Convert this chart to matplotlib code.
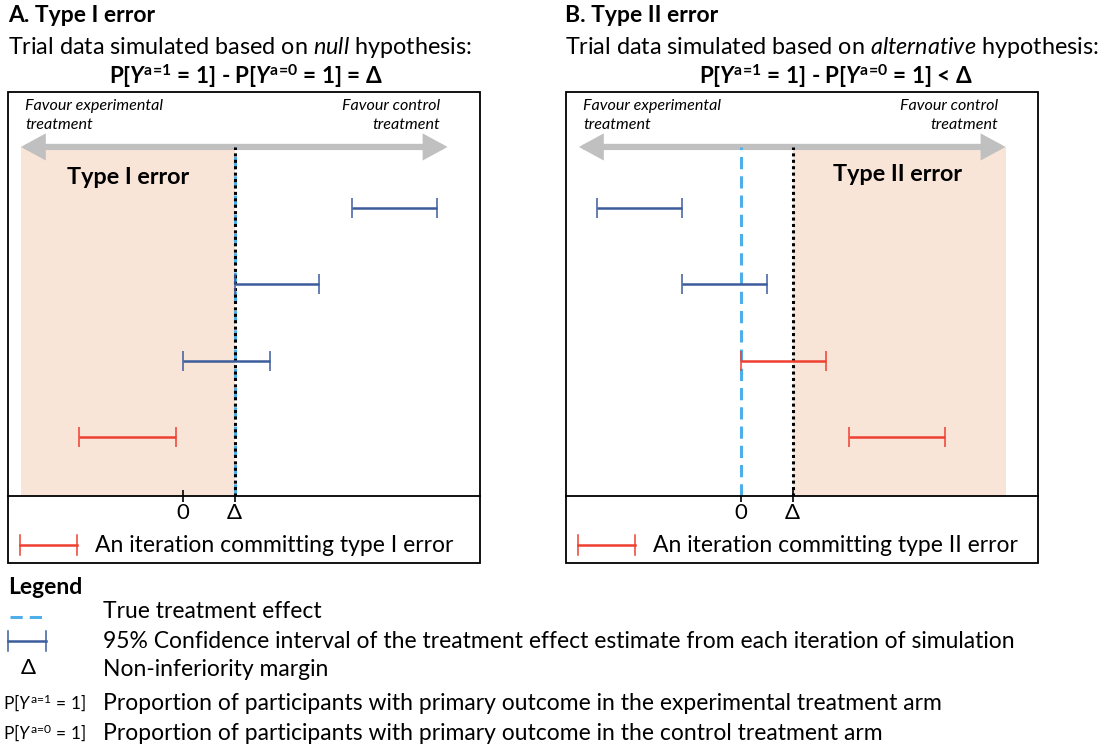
import matplotlib
matplotlib.use("Agg")
import matplotlib.pyplot as plt
from matplotlib.lines import Line2D
from matplotlib.patches import FancyArrowPatch, Rectangle

plt.rcParams["font.family"] = ["Lato", "DejaVu Sans"]
plt.rcParams["mathtext.fontset"] = "custom"
plt.rcParams["mathtext.rm"] = "Lato"
plt.rcParams["mathtext.it"] = "Lato:italic"
plt.rcParams["mathtext.bf"] = "Lato:bold"
plt.rcParams["mathtext.bfit"] = "Lato:bold:italic"
plt.rcParams["mathtext.fallback"] = "stixsans"

# treatment effect scale: 0 = no difference, 1 = non-inferiority margin
XLIM = (-3.4, 5.76)
ROWS = [1, 2, 3, 4]

# panel A: data simulated under the null (true effect = margin)
a_low = [3.28, 1.0, 0.0, -2.02]
a_high = [4.93, 2.64, 1.69, -0.14]
a_error = [False, False, False, True]
a_true_effect = 1.0

# panel B: data simulated under the alternative (true effect = 0)
b_low = [-2.80, -1.15, 0.0, 2.10]
b_high = [-1.15, 0.50, 1.65, 3.96]
b_error = [False, False, True, True]
b_true_effect = 0.0

margin = 1.0
arrow_span = (-3.15, 5.13)
tick_pos = [0, margin]
tick_labels = ["0", "Δ"]

BLUE_CI = "#3C5C9C"
RED_CI = "#EE3F30"
TRUE_BLUE = "#4DAEEA"
SHADE = "#F8E5D8"
ARROW_GREY = "#C0C0C0"

TRUE_DASH = (0, (4, 2.3))
MARGIN_DOT = (0, (1, 1.1))

W, H = 1103, 747
PANEL_W = 472


def fx(x):
    return x / W


def fy(y):
    return 1 - y / H


def ci_symbol(fig, x0, x1, y, color):
    fig.add_artist(Line2D([fx(x0), fx(x1)], [fy(y), fy(y)], color=color, lw=1.8))
    for x in (x0, x1):
        fig.add_artist(Line2D([fx(x), fx(x)], [fy(y - 10), fy(y + 10)], color=color, lw=1.1))


def draw_panel(fig, left, low, high, errors, true_effect, shade_span, label, label_xy, legend_text):
    right = left + PANEL_W
    ax = fig.add_axes([fx(left), fy(496), PANEL_W / W, 404 / H])
    ax.set_xlim(XLIM)
    ax.set_ylim(4.765, -0.516)
    for side in ("top", "left", "right"):
        ax.spines[side].set_visible(False)
    ax.spines["bottom"].set_linewidth(1.3)
    ax.set_yticks([])
    ax.set_xticks(tick_pos)
    ax.set_xticklabels(tick_labels, fontsize=16)
    ax.tick_params(axis="x", direction="inout", length=8, width=1.2, pad=1)

    arrow_y = 0.864
    ax.axvspan(shade_span[0], shade_span[1], ymin=0, ymax=arrow_y, color=SHADE, lw=0, zorder=0)

    arrow = FancyArrowPatch(
        (arrow_span[0], arrow_y), (arrow_span[1], arrow_y),
        transform=ax.get_xaxis_transform(),
        arrowstyle="<|-|>,head_length=0.55,head_width=0.3",
        mutation_scale=20, lw=4.5, color=ARROW_GREY,
        shrinkA=0, shrinkB=0, joinstyle="miter", zorder=1,
    )
    ax.add_patch(arrow)

    ax.axvline(true_effect, ymin=0, ymax=arrow_y, color=TRUE_BLUE, lw=2.2,
               linestyle=TRUE_DASH, zorder=2)
    ax.axvline(margin, ymin=0, ymax=arrow_y, color="black", lw=2.2,
               linestyle=MARGIN_DOT, zorder=3)

    for row, lo, hi, err in zip(ROWS, low, high, errors):
        color = RED_CI if err else BLUE_CI
        ax.errorbar((lo + hi) / 2, row, xerr=(hi - lo) / 2, fmt="none",
                    ecolor=color, elinewidth=1.8, capsize=7.5, capthick=1.1, zorder=4)

    ax.text(label_xy[0], label_xy[1], label, fontsize=16.8, fontweight="bold",
            ha="center", va="center")

    # outer frame of the panel
    fig.add_artist(Rectangle((fx(left), fy(563)), PANEL_W / W, (563 - 92) / H,
                             transform=fig.transFigure, fill=False, lw=1.3, ec="black"))

    fig.text(fx(left + 17), fy(99), "Favour experimental\ntreatment", fontsize=11.6,
             style="italic", ha="left", va="top", linespacing=1.45)
    fig.text(fx(right - 40), fy(99), "Favour control\ntreatment", fontsize=11.6,
             style="italic", ha="right", va="top", linespacing=1.45)

    ci_symbol(fig, left + 12, left + 69, 545, RED_CI)
    fig.text(fx(left + 87), fy(545), legend_text, fontsize=16.5, ha="left", va="center")
    return ax


fig = plt.figure(figsize=(W / 100, H / 100), dpi=100)

FORMULA_A = r"P[$\mathbfit{Y}^{\mathbf{a\!=\!1}}$ = 1] - P[$\mathbfit{Y}^{\mathbf{a\!=\!0}}$ = 1] = Δ"
FORMULA_B = r"P[$\mathbfit{Y}^{\mathbf{a\!=\!1}}$ = 1] - P[$\mathbfit{Y}^{\mathbf{a\!=\!0}}$ = 1] < Δ"

fig.text(fx(8), fy(15), "A. Type I error", fontsize=16.5, fontweight="bold", va="center")
fig.text(fx(8), fy(47), r"Trial data simulated based on $\mathit{null}$ hypothesis:",
         fontsize=16.8, va="center")
fig.text(fx(246), fy(76), FORMULA_A, fontsize=16.2, fontweight="bold", ha="center", va="center")

fig.text(fx(565), fy(15), "B. Type II error", fontsize=16.5, fontweight="bold", va="center")
fig.text(fx(565), fy(47), r"Trial data simulated based on $\mathit{alternative}$ hypothesis:",
         fontsize=16.8, va="center")
fig.text(fx(836), fy(76), FORMULA_B, fontsize=16.2, fontweight="bold", ha="center", va="center")

ax_a = draw_panel(fig, 8, a_low, a_high, a_error, a_true_effect,
                  (arrow_span[0], margin), "Type I error", (-1.07, 0.6),
                  "An iteration committing type I error")
ax_b = draw_panel(fig, 566, b_low, b_high, b_error, b_true_effect,
                  (margin, arrow_span[1]), "Type II error", (3.03, 0.56),
                  "An iteration committing type II error")

# shared legend below the panels
fig.text(fx(8), fy(587), "Legend", fontsize=16.5, fontweight="bold", va="center")
legend_rows = [612, 641, 670, 703, 733]
legend_texts = [
    "True treatment effect",
    "95% Confidence interval of the treatment effect estimate from each iteration of simulation",
    "Non-inferiority margin",
    "Proportion of participants with primary outcome in the experimental treatment arm",
    "Proportion of participants with primary outcome in the control treatment arm",
]
for y, txt in zip(legend_rows, legend_texts):
    fig.text(fx(103), fy(y), txt, fontsize=16.5, va="center")

fig.add_artist(Line2D([fx(10), fx(47)], [fy(617), fy(617)], color=TRUE_BLUE, lw=2.2,
                      linestyle=TRUE_DASH))
ci_symbol(fig, 8, 46, 641, BLUE_CI)
fig.text(fx(28), fy(668), "Δ", fontsize=16, ha="center", va="center")
fig.text(fx(3), fy(703), r"P[$\mathit{Y}^{\mathrm{a\!=\!1}}$ = 1]", fontsize=12.5, va="center")
fig.text(fx(3), fy(733), r"P[$\mathit{Y}^{\mathrm{a\!=\!0}}$ = 1]", fontsize=12.5, va="center")

fig.savefig("out.png", dpi=100)
